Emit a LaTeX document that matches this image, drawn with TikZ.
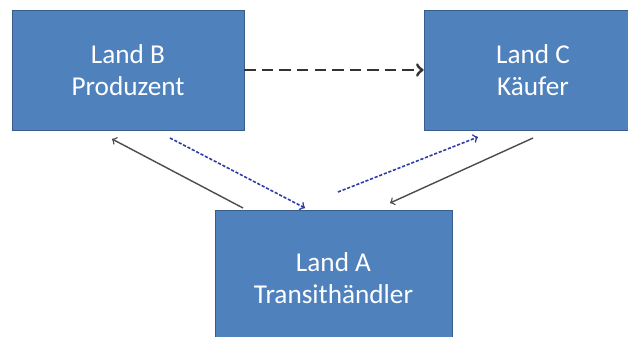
\documentclass[tikz,border=0pt]{standalone}
\usepackage{fontspec}
\setmainfont{Carlito}
\definecolor{kasten}{RGB}{79,129,189}
\definecolor{rand}{RGB}{56,93,138}
\definecolor{fluss}{RGB}{45,60,165}
\begin{document}
\begin{tikzpicture}[x=0.02cm, y=-0.02cm]
  \tikzstyle{land}=[rectangle, draw=rand, fill=kasten, text=white, align=center,
  font=\fontsize{15.5}{18.5}\selectfont, inner sep=0pt]
  \tikzstyle{ware}=[->, draw=black!70, line width=0.8pt]
  \tikzstyle{geld}=[->, draw=fluss, line width=0.9pt, dash pattern=on 1.8pt off 1pt]
  \useasboundingbox (0,0) rectangle (628,337);
  \foreach \n/\x/\y/\w/\h/\t in {B/128/70/232/120/{Land B\\Produzent},
    C/533/70/218/120/{Land C\\Käufer},
    A/333.5/278/237/136/{Land A\\Transithändler}} {
    \node[land, minimum width=\w*0.02cm, minimum height=\h*0.02cm] (\n) at (\x,\y) {\t};
  }
  \coordinate (a1) at (243,208);
  \coordinate (b1) at (112,139);
  \coordinate (b2) at (170,138);
  \coordinate (a2) at (305,208);
  \coordinate (a3) at (338,192);
  \coordinate (c3) at (478,137);
  \coordinate (c4) at (533,138);
  \coordinate (a4) at (390,203);
  \draw[->, line width=1.7pt, black!80, dash pattern=on 6.5pt off 3.5pt] (B) -- (C);
  \draw[ware] (a1) -- (b1);
  \draw[geld] (b2) -- (a2);
  \draw[geld] (a3) -- (c3);
  \draw[ware] (c4) -- (a4);
\end{tikzpicture}
\end{document}
